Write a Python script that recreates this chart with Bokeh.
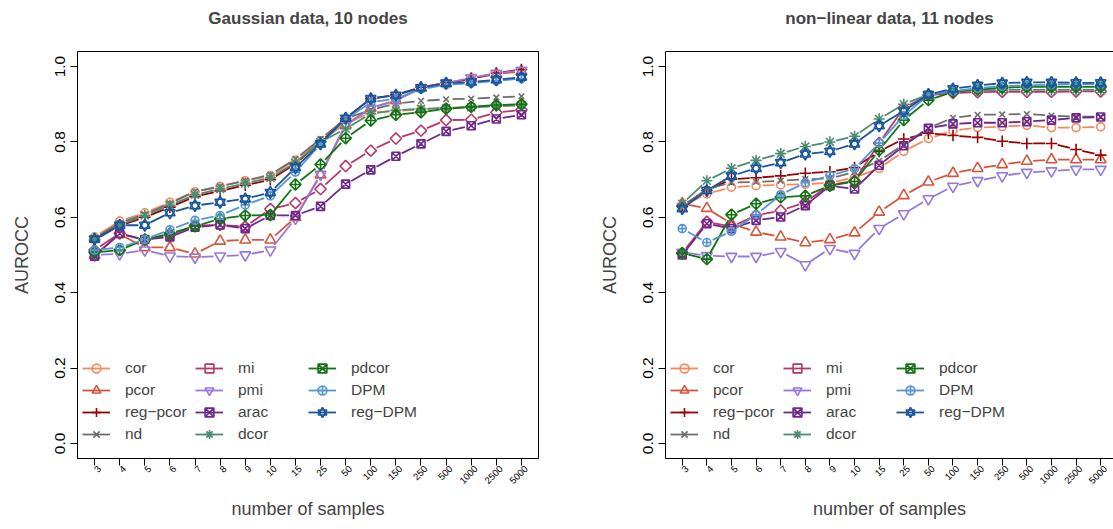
import math

from bokeh.embed import file_html
from bokeh.layouts import row
from bokeh.models import (FixedTicker, Legend, LegendItem, LinearAxis,
                          PrintfTickFormatter, Range1d)
from bokeh.plotting import figure
from bokeh.resources import INLINE

# ---------------------------------------------------------------- data
sample_sizes = ["3", "4", "5", "6", "7", "8", "9", "10", "15", "25", "50",
                "100", "150", "250", "500", "1000", "2500", "5000"]
methods = ["cor", "pcor", "reg\u2212pcor", "nd", "mi", "pmi", "arac",
           "dcor", "pdcor", "DPM", "reg\u2212DPM"]

# AUROCC, Gaussian data, 10 nodes
gauss_cor = [0.548, 0.590, 0.612, 0.640, 0.668, 0.682, 0.697, 0.710, 0.752, 0.803, 0.848, 0.878, 0.882, 0.886, 0.890, 0.893, 0.895, 0.897]
gauss_pcor = [0.500, 0.555, 0.520, 0.520, 0.503, 0.537, 0.540, 0.540, 0.600, 0.713, 0.845, 0.890, 0.910, 0.943, 0.955, 0.968, 0.980, 0.987]
gauss_regpcor = [0.540, 0.578, 0.600, 0.627, 0.655, 0.670, 0.685, 0.700, 0.742, 0.800, 0.862, 0.915, 0.925, 0.945, 0.957, 0.967, 0.983, 0.992]
gauss_nd = [0.545, 0.585, 0.608, 0.637, 0.668, 0.682, 0.697, 0.713, 0.755, 0.808, 0.862, 0.885, 0.902, 0.909, 0.913, 0.915, 0.918, 0.921]
gauss_mi = [0.513, 0.557, 0.540, 0.553, 0.578, 0.580, 0.575, 0.622, 0.638, 0.675, 0.736, 0.777, 0.809, 0.830, 0.858, 0.859, 0.878, 0.885]
gauss_pmi = [0.500, 0.503, 0.513, 0.497, 0.494, 0.497, 0.500, 0.513, 0.597, 0.714, 0.845, 0.889, 0.910, 0.944, 0.956, 0.970, 0.982, 0.990]
gauss_arac = [0.497, 0.557, 0.541, 0.548, 0.574, 0.580, 0.570, 0.605, 0.605, 0.629, 0.688, 0.726, 0.762, 0.795, 0.828, 0.843, 0.861, 0.872]
gauss_dcor = [0.542, 0.580, 0.605, 0.632, 0.660, 0.675, 0.690, 0.705, 0.745, 0.800, 0.835, 0.875, 0.884, 0.888, 0.890, 0.892, 0.895, 0.898]
gauss_pdcor = [0.507, 0.513, 0.541, 0.557, 0.576, 0.596, 0.605, 0.606, 0.687, 0.740, 0.810, 0.857, 0.872, 0.879, 0.888, 0.893, 0.898, 0.900]
gauss_dpm = [0.513, 0.520, 0.541, 0.567, 0.592, 0.605, 0.633, 0.657, 0.720, 0.795, 0.860, 0.905, 0.915, 0.940, 0.952, 0.956, 0.962, 0.968]
gauss_regdpm = [0.542, 0.579, 0.579, 0.612, 0.631, 0.640, 0.649, 0.666, 0.732, 0.795, 0.863, 0.915, 0.924, 0.944, 0.956, 0.959, 0.965, 0.972]

# AUROCC, non-linear data, 11 nodes
nonlin_cor = [0.630, 0.662, 0.680, 0.684, 0.686, 0.688, 0.692, 0.705, 0.730, 0.775, 0.809, 0.830, 0.838, 0.841, 0.844, 0.838, 0.838, 0.840]
nonlin_pcor = [0.636, 0.624, 0.583, 0.561, 0.548, 0.533, 0.541, 0.559, 0.614, 0.658, 0.694, 0.717, 0.730, 0.740, 0.749, 0.753, 0.753, 0.753]
nonlin_regpcor = [0.630, 0.671, 0.701, 0.705, 0.710, 0.717, 0.721, 0.732, 0.775, 0.808, 0.823, 0.817, 0.812, 0.802, 0.796, 0.796, 0.780, 0.765]
nonlin_nd = [0.630, 0.675, 0.692, 0.694, 0.697, 0.701, 0.703, 0.720, 0.750, 0.793, 0.837, 0.864, 0.872, 0.873, 0.874, 0.870, 0.867, 0.867]
nonlin_mi = [0.505, 0.588, 0.575, 0.605, 0.618, 0.640, 0.686, 0.697, 0.797, 0.890, 0.924, 0.930, 0.932, 0.933, 0.933, 0.933, 0.934, 0.934]
nonlin_pmi = [0.507, 0.498, 0.496, 0.496, 0.509, 0.474, 0.517, 0.504, 0.570, 0.609, 0.649, 0.682, 0.697, 0.710, 0.719, 0.723, 0.727, 0.727]
nonlin_arac = [0.500, 0.583, 0.570, 0.592, 0.601, 0.631, 0.684, 0.675, 0.738, 0.790, 0.836, 0.848, 0.851, 0.851, 0.854, 0.858, 0.864, 0.866]
nonlin_dcor = [0.636, 0.697, 0.730, 0.751, 0.769, 0.788, 0.800, 0.815, 0.861, 0.900, 0.926, 0.935, 0.937, 0.938, 0.938, 0.938, 0.938, 0.938]
nonlin_pdcor = [0.505, 0.489, 0.607, 0.636, 0.653, 0.657, 0.684, 0.695, 0.778, 0.858, 0.911, 0.933, 0.939, 0.944, 0.946, 0.946, 0.946, 0.946]
nonlin_dpm = [0.570, 0.533, 0.563, 0.607, 0.660, 0.692, 0.711, 0.729, 0.797, 0.870, 0.925, 0.935, 0.943, 0.948, 0.950, 0.952, 0.953, 0.953]
nonlin_regdpm = [0.623, 0.671, 0.710, 0.730, 0.745, 0.768, 0.775, 0.795, 0.843, 0.882, 0.926, 0.941, 0.950, 0.956, 0.958, 0.958, 0.957, 0.957]

y_ticks = [0.0, 0.2, 0.4, 0.6, 0.8, 1.0]

# ---------------------------------------------------------------- styles
colors = ["#F5895A", "#D6553A", "#990000", "#6E6E6E", "#B8376A", "#9678DC",
          "#6E288C", "#4B8C73", "#147314", "#5596D2", "#19559B"]
# (marker, size factor, angle) per method; reg-DPM is two stacked triangles
base = 8.0
markers = [
    [("circle", 1.0, 0.0)],
    [("triangle", 1.35, 0.0)],
    [("cross", 1.45, 0.0)],
    [("x", 1.0, 0.0)],
    [("square", 1.0, math.pi / 4)],
    [("inverted_triangle", 1.35, 0.0)],
    [("square_x", 1.0, 0.0)],
    [("asterisk", 1.4, 0.0)],
    [("square_x", 1.0, math.pi / 4)],
    [("circle_cross", 1.0, 0.0)],
    [("triangle", 1.3, 0.0), ("inverted_triangle", 1.3, 0.0)],
]

FONT = "Liberation Sans"
FIG_H = 529
FRAME_H = 411
STEP_PX = 461 / 18.36          # pixels between two sample sizes
Y0, Y1 = -0.04, 1.04
GAP_PX = 6.5                   # line gap around each point
LABEL_SHIFT_PX = 5             # slanted tick labels sit a little right of their tick


def gapped_segments(xs, ys, kx, ky, gap):
    x0s, y0s, x1s, y1s = [], [], [], []
    for xa, ya, xb, yb in zip(xs[:-1], ys[:-1], xs[1:], ys[1:]):
        length = math.hypot((xb - xa) * kx, (yb - ya) * ky)
        if length <= 0:
            continue
        f = gap / length
        if f < 0.5:
            x0s.append(xa + f * (xb - xa))
            y0s.append(ya + f * (yb - ya))
            x1s.append(xb + f * (xa - xb))
            y1s.append(yb + f * (ya - yb))
    return x0s, y0s, x1s, y1s


def make_panel(title, series, width, border_left, frame_w, closed_box):
    x0 = 1 - 0.68
    x1 = x0 + frame_w / STEP_PX
    shift = LABEL_SHIFT_PX / STEP_PX
    p = figure(width=width, height=FIG_H, output_backend="svg",
               toolbar_location=None, x_range=Range1d(x0, x1),
               y_range=Range1d(Y0, Y1), min_border_left=border_left,
               min_border_right=width - border_left - frame_w,
               min_border_top=0, min_border_bottom=71)
    p.extra_x_ranges = {"labels": Range1d(x0 - shift, x1 - shift)}
    p.grid.visible = False
    p.background_fill_color = "white"
    p.border_fill_color = "white"
    p.outline_line_color = "black" if closed_box else None
    p.outline_line_width = 1

    # top edge of the box; one blank tick band keeps the title clear of it
    top = LinearAxis(ticker=FixedTicker(ticks=[x0]), axis_line_color="black",
                     major_tick_line_color="white", minor_tick_line_color=None,
                     major_tick_out=18, major_tick_in=0,
                     major_label_text_color=None)
    p.add_layout(top, "above")

    p.title.text = title
    p.title.align = "center"
    p.title.text_font = FONT
    p.title.text_font_size = "17px"
    p.title.text_font_style = "bold"
    p.title.standoff = 12

    ya = p.left[0]
    ya.ticker = FixedTicker(ticks=y_ticks)
    ya.formatter = PrintfTickFormatter(format="%.1f")
    ya.major_label_orientation = "vertical"
    ya.major_label_text_font = FONT
    ya.major_label_text_font_size = "15.5px"
    ya.major_label_text_color = "black"
    ya.major_label_standoff = 5
    ya.axis_label = "AUROCC"
    ya.axis_label_text_font = FONT
    ya.axis_label_text_font_size = "18px"
    ya.axis_label_text_font_style = "normal"
    ya.axis_label_standoff = 21
    ya.major_tick_out = 7
    ya.major_tick_in = 0
    ya.minor_tick_line_color = None
    ya.axis_line_color = "black"
    ya.major_tick_line_color = "black"

    positions = list(range(1, len(sample_sizes) + 1))

    # bottom edge with its tick marks
    xa = p.below[0]
    xa.ticker = FixedTicker(ticks=positions)
    xa.major_label_text_color = None
    xa.major_tick_out = 7
    xa.major_tick_in = 0
    xa.minor_tick_line_color = None
    xa.axis_line_color = "black"
    xa.major_tick_line_color = "black"

    # slanted sample-size labels and the axis title
    lab = LinearAxis(x_range_name="labels", ticker=FixedTicker(ticks=positions),
                     axis_line_color=None, major_tick_line_color=None,
                     minor_tick_line_color=None, major_tick_out=0,
                     major_tick_in=0)
    lab.major_label_overrides = {i: s for i, s in zip(positions, sample_sizes)}
    lab.major_label_orientation = math.pi / 4
    lab.major_label_text_font = FONT
    lab.major_label_text_font_size = "9.5px"
    lab.major_label_text_color = "black"
    lab.major_label_standoff = 2
    lab.axis_label = "number of samples"
    lab.axis_label_text_font = FONT
    lab.axis_label_text_font_size = "18px"
    lab.axis_label_text_font_style = "normal"
    lab.axis_label_standoff = 9
    p.add_layout(lab, "below")

    ky = FRAME_H / (Y1 - Y0)
    xs = positions
    items = []
    for name, ys, color, mk in zip(methods, series, colors, markers):
        sx0, sy0, sx1, sy1 = gapped_segments(xs, ys, STEP_PX, ky, GAP_PX)
        seg = p.segment(sx0, sy0, sx1, sy1, line_color=color, line_width=1.8)
        rends = [seg]
        for marker, factor, angle in mk:
            r = p.scatter(xs, ys, marker=marker, size=base * factor,
                          angle=angle, line_color=color, fill_color=None,
                          line_width=1.6)
            rends.append(r)
        items.append(LegendItem(label=name, renderers=rends))

    legend = Legend(items=items, location=(5, 13), orientation="vertical",
                    nrows=4, glyph_width=28, glyph_height=22, label_height=22,
                    label_width=70, label_standoff=15, spacing=0, padding=0,
                    margin=0, background_fill_alpha=0, border_line_color=None,
                    label_text_font=FONT, label_text_font_size="15.5px")
    p.add_layout(legend)
    return p


gauss_series = [gauss_cor, gauss_pcor, gauss_regpcor, gauss_nd, gauss_mi,
                gauss_pmi, gauss_arac, gauss_dcor, gauss_pdcor, gauss_dpm,
                gauss_regdpm]
nonlin_series = [nonlin_cor, nonlin_pcor, nonlin_regpcor, nonlin_nd, nonlin_mi,
                 nonlin_pmi, nonlin_arac, nonlin_dcor, nonlin_pdcor, nonlin_dpm,
                 nonlin_regdpm]

left = make_panel("Gaussian data, 10 nodes", gauss_series, 596, 77, 461, True)
right = make_panel("non\u2212linear data, 11 nodes", nonlin_series, 517, 60, 457, False)

layout = row(left, right)
open("out.html", "w").write(file_html(layout, INLINE))
